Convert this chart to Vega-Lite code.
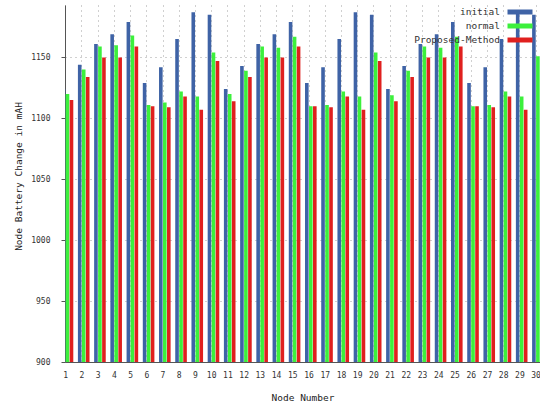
{
  "$schema": "https://vega.github.io/schema/vega-lite/v6.json",
  "width": 475,
  "height": 357,
  "autosize": "none",
  "padding": {"left": 65, "top": 5, "right": 0, "bottom": 44},
  "background": "white",
  "config": {
    "view": {"stroke": null},
    "font": "DejaVu Sans Mono",
    "axis": {"labelFont": "DejaVu Sans Mono", "titleFont": "DejaVu Sans Mono", "labelColor": "#333", "titleColor": "#222", "titleFontWeight": "normal", "domainColor": "#555", "tickColor": "#555"}
  },
  "datasets": {
    "battery": [
      {"node": 1, "series": "initial", "value": 1124}, {"node": 1, "series": "normal", "value": 1120}, {"node": 1, "series": "Proposed-Method", "value": 1115},
      {"node": 2, "series": "initial", "value": 1144}, {"node": 2, "series": "normal", "value": 1140}, {"node": 2, "series": "Proposed-Method", "value": 1134},
      {"node": 3, "series": "initial", "value": 1161}, {"node": 3, "series": "normal", "value": 1159}, {"node": 3, "series": "Proposed-Method", "value": 1150},
      {"node": 4, "series": "initial", "value": 1169}, {"node": 4, "series": "normal", "value": 1160}, {"node": 4, "series": "Proposed-Method", "value": 1150},
      {"node": 5, "series": "initial", "value": 1179}, {"node": 5, "series": "normal", "value": 1168}, {"node": 5, "series": "Proposed-Method", "value": 1159},
      {"node": 6, "series": "initial", "value": 1129}, {"node": 6, "series": "normal", "value": 1111}, {"node": 6, "series": "Proposed-Method", "value": 1110},
      {"node": 7, "series": "initial", "value": 1142}, {"node": 7, "series": "normal", "value": 1113}, {"node": 7, "series": "Proposed-Method", "value": 1109},
      {"node": 8, "series": "initial", "value": 1165}, {"node": 8, "series": "normal", "value": 1122}, {"node": 8, "series": "Proposed-Method", "value": 1118},
      {"node": 9, "series": "initial", "value": 1187}, {"node": 9, "series": "normal", "value": 1118}, {"node": 9, "series": "Proposed-Method", "value": 1107},
      {"node": 10, "series": "initial", "value": 1185}, {"node": 10, "series": "normal", "value": 1154}, {"node": 10, "series": "Proposed-Method", "value": 1147},
      {"node": 11, "series": "initial", "value": 1124}, {"node": 11, "series": "normal", "value": 1120}, {"node": 11, "series": "Proposed-Method", "value": 1114},
      {"node": 12, "series": "initial", "value": 1143}, {"node": 12, "series": "normal", "value": 1139}, {"node": 12, "series": "Proposed-Method", "value": 1134},
      {"node": 13, "series": "initial", "value": 1161}, {"node": 13, "series": "normal", "value": 1159}, {"node": 13, "series": "Proposed-Method", "value": 1150},
      {"node": 14, "series": "initial", "value": 1169}, {"node": 14, "series": "normal", "value": 1158}, {"node": 14, "series": "Proposed-Method", "value": 1150},
      {"node": 15, "series": "initial", "value": 1179}, {"node": 15, "series": "normal", "value": 1167}, {"node": 15, "series": "Proposed-Method", "value": 1159},
      {"node": 16, "series": "initial", "value": 1129}, {"node": 16, "series": "normal", "value": 1110}, {"node": 16, "series": "Proposed-Method", "value": 1110},
      {"node": 17, "series": "initial", "value": 1142}, {"node": 17, "series": "normal", "value": 1111}, {"node": 17, "series": "Proposed-Method", "value": 1109},
      {"node": 18, "series": "initial", "value": 1165}, {"node": 18, "series": "normal", "value": 1122}, {"node": 18, "series": "Proposed-Method", "value": 1118},
      {"node": 19, "series": "initial", "value": 1187}, {"node": 19, "series": "normal", "value": 1118}, {"node": 19, "series": "Proposed-Method", "value": 1107},
      {"node": 20, "series": "initial", "value": 1185}, {"node": 20, "series": "normal", "value": 1154}, {"node": 20, "series": "Proposed-Method", "value": 1147},
      {"node": 21, "series": "initial", "value": 1124}, {"node": 21, "series": "normal", "value": 1119}, {"node": 21, "series": "Proposed-Method", "value": 1114},
      {"node": 22, "series": "initial", "value": 1143}, {"node": 22, "series": "normal", "value": 1139}, {"node": 22, "series": "Proposed-Method", "value": 1134},
      {"node": 23, "series": "initial", "value": 1161}, {"node": 23, "series": "normal", "value": 1159}, {"node": 23, "series": "Proposed-Method", "value": 1150},
      {"node": 24, "series": "initial", "value": 1169}, {"node": 24, "series": "normal", "value": 1158}, {"node": 24, "series": "Proposed-Method", "value": 1150},
      {"node": 25, "series": "initial", "value": 1179}, {"node": 25, "series": "normal", "value": 1167}, {"node": 25, "series": "Proposed-Method", "value": 1159},
      {"node": 26, "series": "initial", "value": 1129}, {"node": 26, "series": "normal", "value": 1110}, {"node": 26, "series": "Proposed-Method", "value": 1110},
      {"node": 27, "series": "initial", "value": 1142}, {"node": 27, "series": "normal", "value": 1111}, {"node": 27, "series": "Proposed-Method", "value": 1109},
      {"node": 28, "series": "initial", "value": 1165}, {"node": 28, "series": "normal", "value": 1122}, {"node": 28, "series": "Proposed-Method", "value": 1118},
      {"node": 29, "series": "initial", "value": 1187}, {"node": 29, "series": "normal", "value": 1118}, {"node": 29, "series": "Proposed-Method", "value": 1107},
      {"node": 30, "series": "initial", "value": 1185}, {"node": 30, "series": "normal", "value": 1151}, {"node": 30, "series": "Proposed-Method", "value": 1147}
    ]
  },
  "data": {"name": "battery"},
  "encoding": {
    "x": {
      "field": "node", "type": "quantitative",
      "scale": {"domain": [0.988, 30.271], "nice": false, "zero": false, "padding": 0},
      "axis": {
        "values": [1,2,3,4,5,6,7,8,9,10,11,12,13,14,15,16,17,18,19,20,21,22,23,24,25,26,27,28,29,30],
        "format": "d", "ticks": false, "labelPadding": 9, "labelFontSize": 8, "labelFlush": false, "labelOverlap": false,
        "grid": true, "gridDash": [1, 4], "gridColor": "#8a8a8a", "gridOpacity": 0.8,
        "title": "Node Number", "titleFontSize": 9.5, "titleY": 35, "titleBaseline": "middle"
      }
    },
    "y": {
      "field": "value", "type": "quantitative",
      "scale": {"domain": [900, 1193], "nice": false, "zero": false, "padding": 0},
      "axis": {
        "values": [900, 950, 1000, 1050, 1100, 1150], "format": "d",
        "tickSize": 4, "labelPadding": 11, "labelFontSize": 8,
        "grid": true, "gridDash": [1, 4], "gridColor": "#8a8a8a", "gridOpacity": 0.8,
        "title": "Node Battery Change in mAH", "titleFontSize": 9.5,
        "titleX": -47, "titleY": 171, "titleAngle": 270, "titleBaseline": "middle", "titleAlign": "center"
      }
    },
    "color": {
      "field": "series", "type": "nominal",
      "scale": {"domain": ["initial", "normal", "Proposed-Method"], "range": ["#3f63a6", "#3cf03c", "#e0201e"]},
      "legend": {
        "title": null, "orient": "none", "legendX": 450, "legendY": 2,
        "symbolType": "M-2.5,-0.5L2.5,-0.5L2.5,0.5L-2.5,0.5Z", "symbolSize": 100, "symbolStrokeWidth": 0, "symbolOpacity": 1,
        "labelAlign": "right", "labelOffset": -25, "labelFont": "DejaVu Sans Mono", "labelFontSize": 9.5, "labelColor": "#333",
        "rowPadding": 4
      }
    }
  },
  "layer": [
    {"transform": [{"filter": "datum.series === 'initial'"}], "mark": {"type": "bar", "width": 3.6, "xOffset": -1.7, "clip": true}},
    {"transform": [{"filter": "datum.series === 'normal'"}], "mark": {"type": "bar", "width": 3.6, "xOffset": 2.3, "clip": true}},
    {"transform": [{"filter": "datum.series === 'Proposed-Method'"}], "mark": {"type": "bar", "width": 3.6, "xOffset": 6.3, "clip": true}}
  ]
}
